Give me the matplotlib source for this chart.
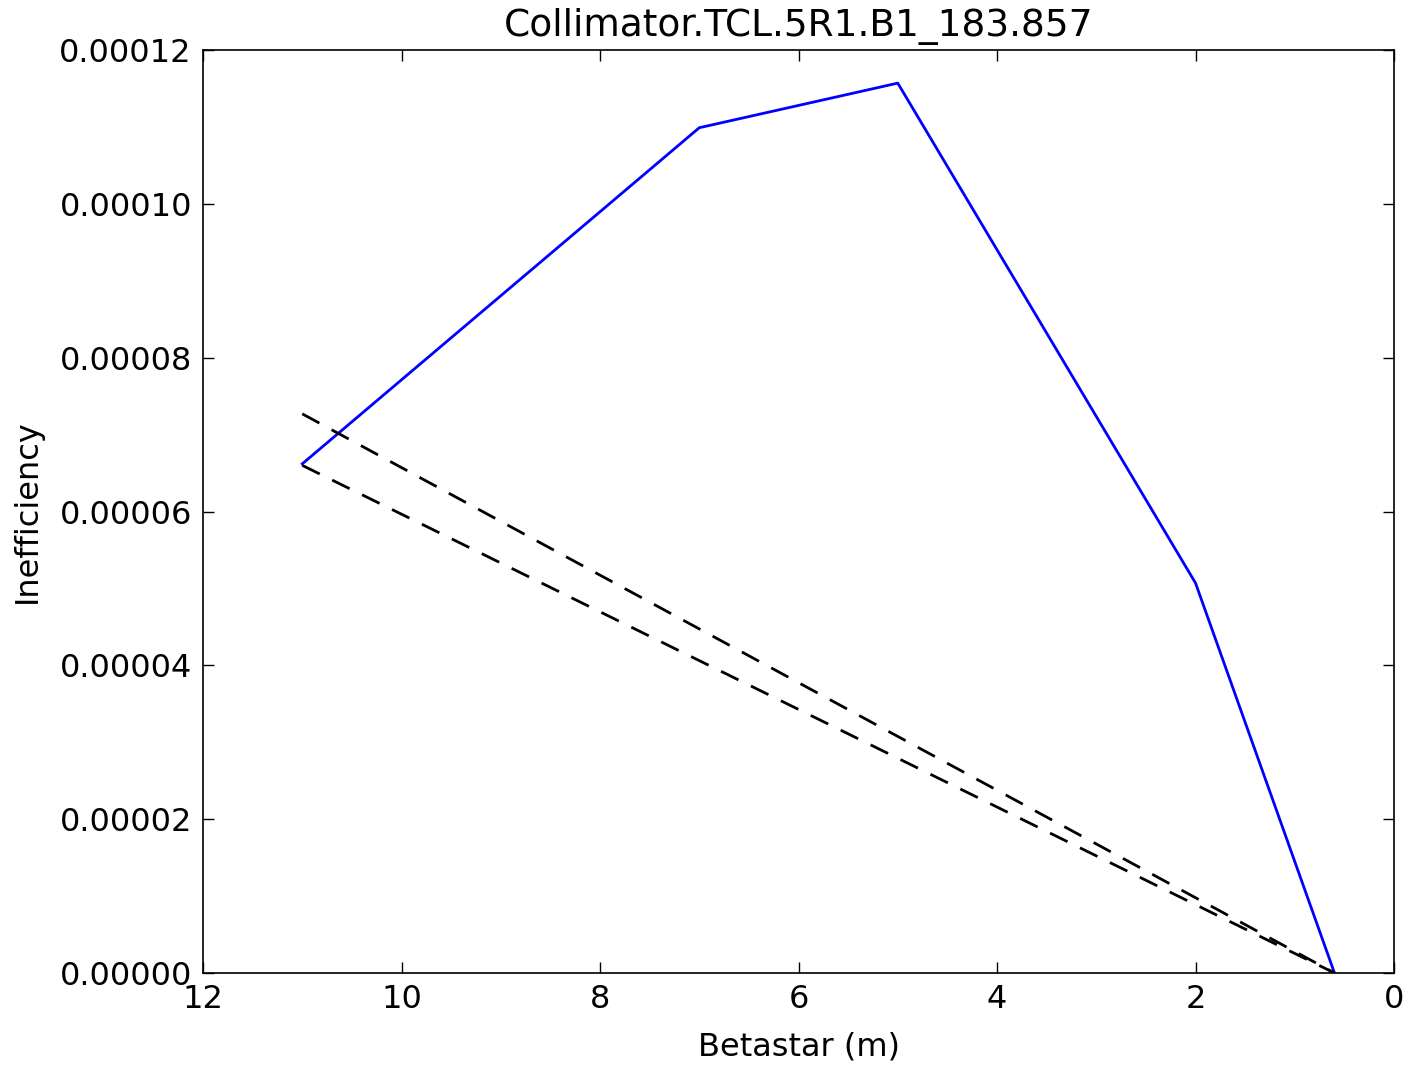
import numpy as np
import matplotlib
matplotlib.use("Agg")
import matplotlib.pyplot as plt

# data
betastar = [11.0, 7.0, 5.0, 2.0, 0.6]
ineff = [6.62e-5, 10.99e-5, 11.57e-5, 5.07e-5, 0.0]

ref_x = [11.0, 0.6]
ref_hi = [7.27e-5, 0.0]
ref_lo = [6.60e-5, 0.0]

fig = plt.figure(figsize=(14.03, 10.65), dpi=100)
ax = fig.add_axes([0.1447, 0.0864, 0.8489, 0.8666])

ax.plot(betastar, ineff, color='b', lw=2.0)
ax.plot(ref_x, ref_hi, 'k--', lw=2.0, dashes=(7, 5))
ax.plot(ref_x, ref_lo, 'k--', lw=2.0, dashes=(7, 5))

ax.set_xlim(12, 0)
ax.set_ylim(0, 0.00012)
ax.set_xticks([12, 10, 8, 6, 4, 2, 0])
yt = np.arange(0, 0.000121, 0.00002)
ax.set_yticks(yt)
ax.set_yticklabels(["%.5f" % v for v in yt])
ax.tick_params(direction='in', top=True, right=True, length=8, width=1,
               labelsize=23, pad=8)
for s in ax.spines.values():
    s.set_linewidth(1.2)

ax.set_title("Collimator.TCL.5R1.B1_183.857", fontsize=27, pad=10)
ax.set_xlabel("Betastar (m)", fontsize=23, labelpad=12)
ax.set_ylabel("Inefficiency", fontsize=23, labelpad=12)

fig.savefig("out.png", dpi=100, facecolor='white')
